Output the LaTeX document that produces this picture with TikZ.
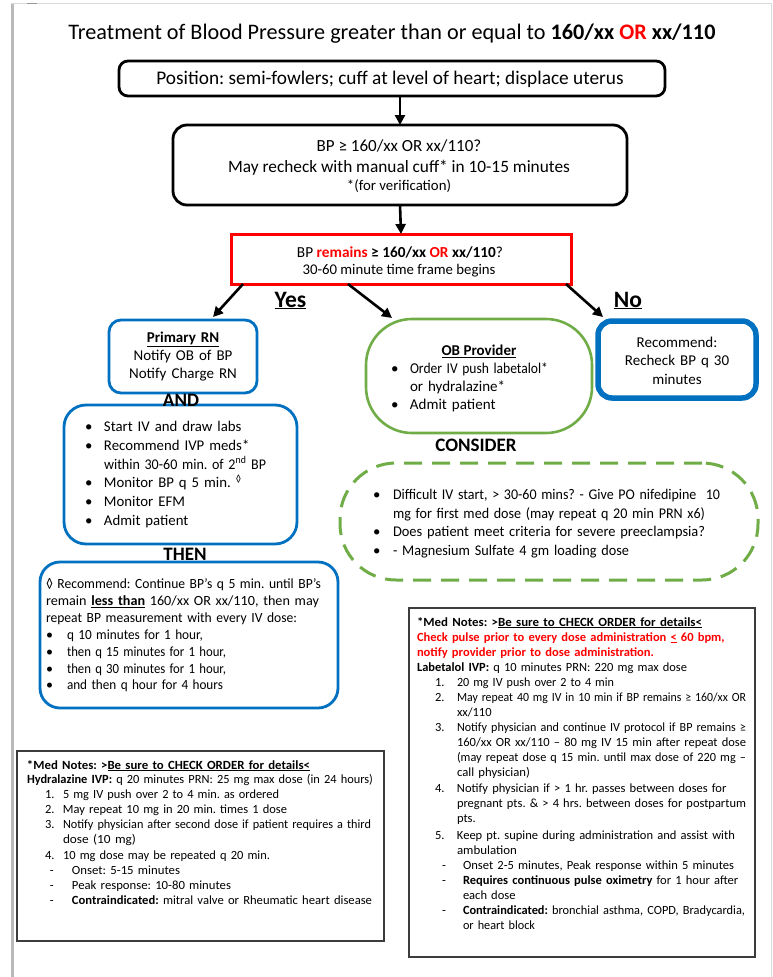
\documentclass[tikz,border=0pt]{standalone}
\usepackage{fontspec}
\usepackage{graphicx}
\setmainfont{Carlito}
\usetikzlibrary{arrows.meta}
\definecolor{bpblue}{RGB}{0,112,192}
\definecolor{bpgreen}{RGB}{112,173,71}
\definecolor{bpred}{RGB}{255,0,0}
\definecolor{notegray}{RGB}{60,60,60}
\newcommand\fs[2]{\fontsize{#1}{#2}\selectfont}
\newcommand\bitem[2]{\makebox[#1][l]{•}#2}
\newcommand\nitem[3]{\hspace*{#1}\makebox[#2][l]{#3}}
\newcommand\fw[2]{\resizebox{#1}{\height}{#2}}
\newsavebox\jbox
\newcommand\jfit[2]{\sbox\jbox{#2}\ifdim\wd\jbox>#1\relax\resizebox{#1}{\height}{\usebox\jbox}\else\makebox[#1][s]{#2}\fi}
\begin{document}
\frenchspacing
\begin{tikzpicture}[x=1pt,y=-1pt,
  every node/.style={inner sep=0pt, outer sep=0pt},
  arr/.style={line width=2.6pt, -{Triangle[length=10pt,width=10pt]}},
  boxblack/.style={draw=black, line width=2.8pt, rounded corners=#1},
  boxred/.style={draw=bpred, line width=3pt},
  boxblue/.style={draw=bpblue, line width=2.8pt, rounded corners=#1},
  boxgreen/.style={draw=bpgreen, line width=2.6pt, rounded corners=#1},
  boxdash/.style={draw=bpgreen, line width=3pt, rounded corners=56pt, dash pattern=on 18pt off 10pt},
  notebox/.style={draw=notegray, line width=1.6pt},
  lbl/.style={font=\fs{19}{22}\bfseries, anchor=base},
]
\useasboundingbox (0,0) rectangle (773,977);
\fill[white] (0,0) rectangle (773,977);
% page edges
\draw[gray!55, line width=3pt] (12.5,3) -- (12.5,977);
\draw[gray!30, line width=1pt] (11,3) -- (771,3) -- (771,977);
\draw[gray!80, line width=1pt] (27,3) -- (37,3);

% title
\node[anchor=base, font=\fs{22.2}{26}] (title) at (392,39)
  {Treatment of Blood Pressure greater than or equal to \textbf{160/xx} {\color{bpred}\textbf{OR}} \textbf{xx/110}};

% position box
\node[boxblack=9pt, minimum width=546pt, minimum height=35pt] (posbox) at (392,78.5) {};
\node[anchor=base, font=\fs{19.3}{22}] (postext) at (390,84.5) {Position: semi-fowlers; cuff at level of heart; displace uterus};

% check box
\node[boxblack=14pt, minimum width=454pt, minimum height=80pt] (chkbox) at (400,165) {};
\node[anchor=base, font=\fs{17}{19}] (chk1) at (399,151) {BP ≥ 160/xx OR xx/110?};
\node[anchor=base, font=\fs{17.3}{19}] (chk2) at (399,172.5) {May recheck with manual cuff* in 10-15 minutes};
\node[anchor=base, font=\fs{14.8}{16}] (chk3) at (399,190) {*(for verification)};

% red box
\node[boxred, minimum width=340pt, minimum height=50pt] (redbox) at (401,259) {};
\node[anchor=base, font=\fs{15.3}{19}] (red1) at (400,257)
  {BP {\color{bpred}\textbf{remains}} \textbf{≥ 160/xx} {\color{bpred}\textbf{OR}} \textbf{xx/110}?};
\node[anchor=base, font=\fs{14.8}{16}] (red2) at (399,274) {30-60 minute time frame begins};

\draw[arr] (posbox.south -| chkbox.north) -- (chkbox.north);
\draw[arr] (chkbox.south) -- (redbox.north);

% yes / no
\node[anchor=base, font=\fs{23.5}{26}\bfseries] (yes) at (290.5,307) {\underline{Yes}};
\node[anchor=base, font=\fs{23.5}{26}\bfseries] (no) at (628,307) {\underline{No}};

% Primary RN
\node[boxblue=12pt, minimum width=148pt, minimum height=73pt] (rnbox) at (183,356.5) {};
\node[anchor=base, align=center, text width=140pt, font=\fs{15}{18}] (rntext) at (183,342)
  {\textbf{\underline{Primary RN}}\\Notify OB of BP\\Notify Charge RN};

% OB provider
\node[boxgreen=46pt, minimum width=226pt, minimum height=114pt] (obbox) at (479,376) {};
\node[anchor=base, font=\fs{15}{18}] (obtitle) at (479,355.5) {\textbf{\underline{OB Provider}}};
\node[anchor=base west, align=left, text width=200pt, font=\fs{15}{18.3}] (oblist) at (391,373)
  {\bitem{19pt}{\fw{138pt}{Order IV push labetalol*}}\\\hspace*{19pt}or hydralazine*\\\bitem{19pt}{Admit patient}};

% No box
\node[draw=bpblue, line width=5.5pt, rounded corners=14pt, minimum width=158pt, minimum height=77pt] (nobox) at (677,359.5) {};
\node[anchor=base, align=center, text width=150pt, font=\fs{15}{18.5}] (notext) at (677,347)
  {Recommend:\\Recheck BP q 30\\minutes};

% arrows from red box
\draw[arr] ([xshift=12pt]redbox.south west) -- ([xshift=30pt,yshift=3pt]rnbox.north);
\draw[arr] ([xshift=117pt]redbox.south west) -- ([xshift=26pt,yshift=1pt]obbox.north west);
\draw[arr] ([xshift=-5pt]redbox.south east) -- ([xshift=5pt,yshift=4pt]nobox.north west);

% AND box
\node[boxblue=22pt, minimum width=233pt, minimum height=139pt] (andbox) at (180.5,474.5) {};
\node[lbl] (and) at (181,406) {AND};
\node[anchor=base west, align=left, text width=210pt, font=\fs{14.8}{18.8}] (andtext) at (85,431.5)
  {\bitem{19pt}{Start IV and draw labs}\\
   \bitem{19pt}{Recommend IVP meds*}\\
   \hspace*{19pt}\fw{162pt}{within 30-60 min. of 2\textsuperscript{nd} BP}\\
   \bitem{19pt}{Monitor BP q 5 min. \textsuperscript{◊}}\\
   \bitem{19pt}{Monitor EFM}\\
   \bitem{19pt}{Admit patient}};

% CONSIDER
\node[lbl] (consider) at (476,451) {CONSIDER};
\node[boxdash, minimum width=418pt, minimum height=117pt] (dashbox) at (549,521.5) {};
\node[anchor=base west, align=left, text width=380pt, font=\fs{14.8}{18.7}] (dashtext) at (373,499.5)
  {\bitem{20pt}{\fw{327pt}{Difficult IV start, > 30-60 mins? - Give PO nifedipine\ \ 10}}\\
   \hspace*{20pt}\fw{312pt}{mg for first med dose (may repeat q 20 min PRN x6)}\\
   \bitem{20pt}{\fw{312pt}{Does patient meet criteria for severe preeclampsia?}}\\
   \bitem{20pt}{\fw{236pt}{- Magnesium Sulfate 4 gm loading dose}}};

% THEN box
\node[boxblue=20pt, minimum width=298pt, minimum height=146pt] (thenbox) at (189,635) {};
\node[lbl] (then) at (185,560) {THEN};
\node[anchor=base west, align=left, text width=290pt, font=\fs{14}{16.9}] (thentext) at (46,588.5)
  {\fw{275pt}{◊ Recommend: Continue BP’s q 5 min. until BP’s}\\
   \fw{273pt}{remain \textbf{\underline{less than}} 160/xx OR xx/110, then may}\\
   \fw{251pt}{repeat BP measurement with every IV dose:}\\
   \bitem{21pt}{\fw{136pt}{q 10 minutes for 1 hour,}}\\
   \bitem{21pt}{\fw{159pt}{then q 15 minutes for 1 hour,}}\\
   \bitem{21pt}{\fw{159pt}{then q 30 minutes for 1 hour,}}\\
   \bitem{21pt}{\fw{156pt}{and then q hour for 4 hours}}};

% right notes
\node[notebox, minimum width=346pt, minimum height=349pt] (labbox) at (582,782.5) {};
\node[anchor=base west, align=left, text width=345pt, font=\fs{12.5}{15}] (labtext) at (417,626)
  {\fw{285pt}{\textbf{*Med Notes: >\underline{Be sure to CHECK ORDER for details<}}}\\
   \jfit{329pt}{\color{bpred}\bfseries Check pulse prior to every dose administration \underline{<} 60 bpm,}\\
   \fw{237pt}{\color{bpred}\bfseries notify provider prior to dose administration.}\\
   \fw{270pt}{\textbf{Labetalol IVP:} q 10 minutes PRN: 220 mg max dose}\\
   \nitem{18pt}{22pt}{1.}\fw{157pt}{20 mg IV push over 2 to 4 min}\\
   \nitem{18pt}{22pt}{2.}\fw{289pt}{May repeat 40 mg IV in 10 min if BP remains ≥ 160/xx OR}\\
   \hspace*{40pt}xx/110\\
   \nitem{18pt}{22pt}{3.}\fw{289pt}{Notify physician and continue IV protocol if BP remains ≥}\\
   \hspace*{40pt}\fw{289pt}{160/xx OR xx/110 – 80 mg IV 15 min after repeat dose}\\
   \hspace*{40pt}\fw{289pt}{(may repeat dose q 15 min. until max dose of 220 mg –}\\
   \hspace*{40pt}\fw{73pt}{call physician)}\\[1.5pt]
   \nitem{18pt}{22pt}{4.}\jfit{289pt}{Notify physician if > 1 hr. passes between doses for}\\
   \hspace*{40pt}\jfit{289pt}{pregnant pts. \& > 4 hrs. between doses for postpartum}\\
   \hspace*{40pt}pts.\\[1.5pt]
   \nitem{18pt}{22pt}{5.}\jfit{289pt}{Keep pt. supine during administration and assist with}\\
   \hspace*{40pt}\fw{60pt}{ambulation}\\
   \nitem{25pt}{21pt}{-}\fw{271pt}{Onset 2-5 minutes, Peak response within 5 minutes}\\
   \nitem{25pt}{21pt}{-}\jfit{283pt}{\textbf{Requires continuous pulse oximetry} for 1 hour after}\\
   \hspace*{46pt}each dose\\
   \nitem{25pt}{21pt}{-}\fw{282pt}{\textbf{Contraindicated:} bronchial asthma, COPD, Bradycardia,}\\
   \hspace*{46pt}\fw{72pt}{or heart block}};

% left notes
\node[notebox, minimum width=367pt, minimum height=190pt] (hydbox) at (200.5,846) {};
\node[anchor=base west, align=left, text width=360pt, font=\fs{12.5}{14.8}] (hydtext) at (27,769)
  {\fw{283pt}{\textbf{*Med Notes: >\underline{Be sure to CHECK ORDER for details<}}}\\
   \fw{346pt}{\textbf{Hydralazine IVP:} q 20 minutes PRN: 25 mg max dose (in 24 hours)}\\
   \nitem{18pt}{18pt}{1.}\fw{216pt}{5 mg IV push over 2 to 4 min. as ordered}\\
   \nitem{18pt}{18pt}{2.}\fw{224pt}{May repeat 10 mg in 20 min. times 1 dose}\\
   \nitem{18pt}{18pt}{3.}\fw{308pt}{Notify physician after second dose if patient requires a third}\\
   \hspace*{36pt}\fw{73pt}{dose (10 mg)}\\[2pt]
   \nitem{18pt}{18pt}{4.}\fw{207pt}{10 mg dose may be repeated q 20 min.}\\
   \nitem{23pt}{22pt}{-}\fw{108pt}{Onset: 5-15 minutes}\\
   \nitem{23pt}{22pt}{-}\fw{159pt}{Peak response: 10-80 minutes}\\
   \nitem{23pt}{22pt}{-}\fw{300pt}{\textbf{Contraindicated:} mitral valve or Rheumatic heart disease}};
\end{tikzpicture}
\end{document}
